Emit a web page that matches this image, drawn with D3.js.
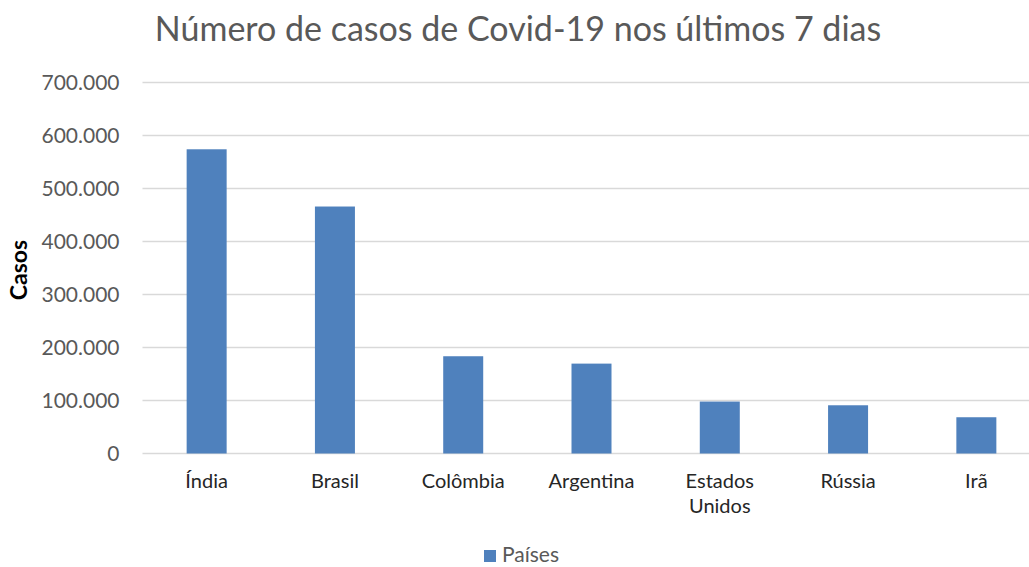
<!DOCTYPE html>
<html>
<head>
<meta charset="utf-8">
<script src="https://cdn.jsdelivr.net/npm/d3@7"></script>
<style>
body { margin: 0; background: #fff; }
text { font-family: Lato, "Open Sans", sans-serif; }
</style>
</head>
<body>
<div id="chart"></div>
<script>
'use strict'

var paises = ["Índia", "Brasil", "Colômbia", "Argentina", "Estados Unidos", "Rússia", "Irã"]
var casos = [574000, 466000, 183500, 169600, 98000, 91000, 68400]
var yTicks = [0, 100000, 200000, 300000, 400000, 500000, 600000, 700000]

var data = paises.map(function(p, i){
	return {pais : p, casos : casos[i]}
})

var W = 1029, H = 567
var margins = {top : 82.5, left : 142.5}
var width = 898, height = 371

var svg = d3.select("#chart")
	.append("svg")
	.attr("width", W)
	.attr("height", H)

var g = svg.append("g").attr("transform", "translate(" + margins.left + "," + margins.top + ")")

var x = d3.scaleBand()
	.domain(paises)
	.range([0, width])
	.padding(0)

var y = d3.scaleLinear()
	.domain([0, 700000])
	.range([height, 0])

var fmt = function(d){
	return d === 0 ? "0" : d3.format(",")(d).replace(/,/g, ".")
}

// gridlines
g.selectAll(".grid")
	.data(yTicks)
	.enter().append("line")
	.attr("class", "grid")
	.attr("x1", 0)
	.attr("x2", width)
	.attr("y1", function(d){ return y(d) })
	.attr("y2", function(d){ return y(d) })
	.attr("stroke", "#d9d9d9")
	.attr("stroke-width", 1.3)

// y axis labels
var ya = g.append("g")
	.call(d3.axisLeft(y).tickValues(yTicks).tickFormat(fmt).tickSize(0).tickPadding(23))
ya.select(".domain").remove()
ya.selectAll("text")
	.attr("fill", "#595959")
	.style("font-size", "21px")
	.style("font-family", "Lato, 'Open Sans', sans-serif")

var barW = 40
g.selectAll(".bar")
	.data(data)
	.enter().append("rect")
	.attr("class", "bar")
	.attr("x", function(d){ return x(d.pais) + (x.bandwidth() - barW) / 2 })
	.attr("width", barW)
	.attr("y", function(d){ return y(d.casos) })
	.attr("height", function(d){ return height - y(d.casos) })
	.attr("fill", "#4f81bd")

// category labels
var xa = g.append("g")
	.attr("transform", "translate(0," + height + ")")
	.call(d3.axisBottom(x).tickSize(0).tickPadding(0))
xa.select(".domain").remove()
xa.selectAll(".tick text").remove()
xa.selectAll(".tick").each(function(d){
	var t = d3.select(this).append("text")
		.attr("fill", "#262626")
		.attr("text-anchor", "middle")
		.style("font-size", "20px")
		.style("font-family", "Lato, 'Open Sans', sans-serif")
	var words = d.split(" ")
	words.forEach(function(w, i){
		t.append("tspan").attr("x", 0).attr("y", 34 + i * 25).text(w)
	})
})

// axis title
svg.append("text")
	.attr("transform", "translate(27,270) rotate(-90)")
	.attr("text-anchor", "middle")
	.attr("fill", "#000")
	.style("font-size", "23px")
	.style("font-weight", "bold")
	.text("Casos")

// title
svg.append("text")
	.attr("x", 518)
	.attr("y", 41)
	.attr("text-anchor", "middle")
	.attr("fill", "#595959")
	.style("font-size", "34px")
	.text("Número de casos de Covid-19 nos últimos 7 dias")

// legend
svg.append("rect")
	.attr("x", 484)
	.attr("y", 550)
	.attr("width", 12)
	.attr("height", 12)
	.attr("fill", "#4f81bd")
svg.append("text")
	.attr("x", 502)
	.attr("y", 562)
	.attr("fill", "#595959")
	.style("font-size", "21px")
	.text("Países")
</script>
</body>
</html>
